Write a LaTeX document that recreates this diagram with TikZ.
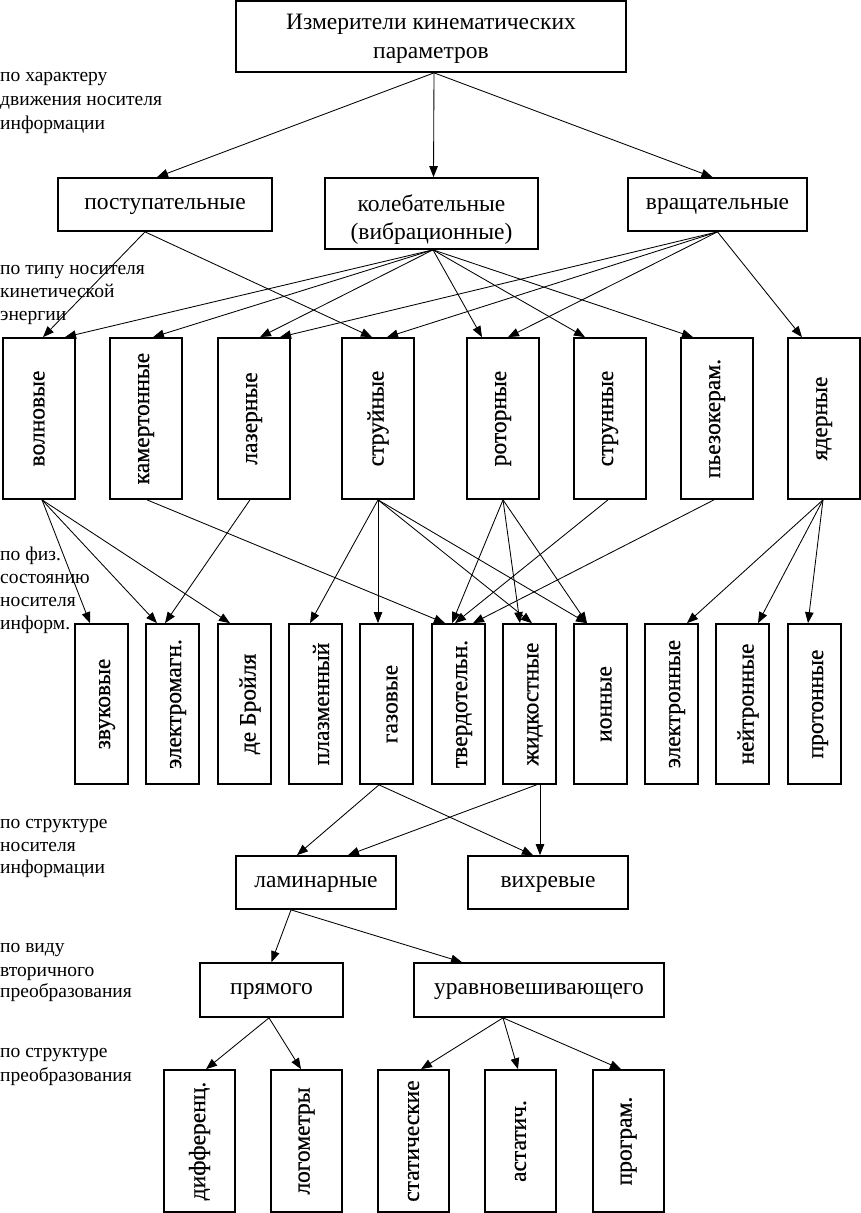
\documentclass[tikz,border=0pt]{standalone}
\usepackage{fontspec}
\setmainfont{Liberation Serif}
\newfontfamily\vfont[FakeBold=0.6]{Liberation Serif}
\usepackage{graphicx}
\usetikzlibrary{arrows.meta}
\begin{document}
\begin{tikzpicture}[x=1pt,y=-1pt,
  box/.style={draw, line width=1.7pt, inner sep=0pt, align=center, font=\vfont\fontsize{23.5}{29}\selectfont},
  hb/.style={box},
  btxt/.style={inner sep=0pt, anchor=base, font=\fontsize{23.5}{29}\selectfont},
  vthree/.style={box, minimum width=72pt, minimum height=161pt},
  vfour/.style={box, minimum width=53pt, minimum height=160pt},
  vseven/.style={box, minimum width=71pt, minimum height=142pt},
  arr/.style={-{Triangle[length=11pt,width=8.5pt]}, line width=0.85pt},
  lt/.style={anchor=base west, inner sep=0pt, font=\fontsize{19.5}{24}\selectfont}]
\useasboundingbox (0,0) rectangle (860,1213);
\fill[white] (0,0) rectangle (860,1213);
% level 1
\node[hb, minimum width=390pt, minimum height=71pt] (top) at (431,36.5) {};
\node[btxt] (top-a) at (431,29.5) {Измерители кинематических};
\node[btxt] (top-b) at (431,58) {параметров};
% level 2
\node[hb, minimum width=214pt, minimum height=53pt] (post) at (165,204.5) {};
\node[btxt] (post-t) at (165,209) {поступательные};
\node[hb, minimum width=213pt, minimum height=71pt] (kol) at (431.5,213.5) {};
\node[btxt] (kol-a) at (431.5,211) {колебательные};
\node[btxt] (kol-b) at (431.5,239) {(вибрационные)};
\node[hb, minimum width=179pt, minimum height=53pt] (vr) at (717.5,204.5) {};
\node[btxt] (vr-t) at (717.5,209) {вращательные};
% level 3
\node[vthree] (voln) at (39,418.5) {\rotatebox{90}{волновые}};
\node[vthree] (kam) at (146,418.5) {\rotatebox{90}{камертонные}};
\node[vthree] (laz) at (254,418.5) {\rotatebox{90}{лазерные}};
\node[vthree] (str) at (378,418.5) {\rotatebox{90}{струйные}};
\node[vthree] (rot) at (503,418.5) {\rotatebox{90}{роторные}};
\node[vthree] (strn) at (610,418.5) {\rotatebox{90}{струнные}};
\node[vthree] (pz) at (717,418.5) {\rotatebox{90}{пьезокерам.}};
\node[vthree] (yad) at (824,418.5) {\rotatebox{90}{ядерные}};
% level 4
\node[vfour] (zv) at (101.5,704) {\hspace*{11pt}\rotatebox{90}{звуковые}};
\node[vfour] (em) at (172.5,704) {\hspace*{11pt}\rotatebox{90}{электромагн.}};
\node[vfour] (db) at (244.5,704) {\hspace*{11pt}\rotatebox{90}{де Бройля}};
\node[vfour] (pl) at (315.5,704) {\hspace*{11pt}\rotatebox{90}{плазменный}};
\node[vfour] (gaz) at (386.5,704) {\hspace*{11pt}\rotatebox{90}{газовые}};
\node[vfour] (tv) at (458.5,704) {\hspace*{11pt}\rotatebox{90}{твердотельн.}};
\node[vfour] (zh) at (529.5,704) {\hspace*{11pt}\rotatebox{90}{жидкостные}};
\node[vfour] (ion) at (600.5,704) {\hspace*{11pt}\rotatebox{90}{ионные}};
\node[vfour] (el) at (671.5,704) {\hspace*{11pt}\rotatebox{90}{электронные}};
\node[vfour] (ne) at (742.5,704) {\hspace*{11pt}\rotatebox{90}{нейтронные}};
\node[vfour] (pr) at (814.5,704) {\hspace*{11pt}\rotatebox{90}{протонные}};
% level 5
\node[hb, minimum width=160pt, minimum height=53pt] (lam) at (316,882.5) {};
\node[btxt] (lam-t) at (316,887) {ламинарные};
\node[hb, minimum width=160pt, minimum height=53pt] (vih) at (548,882.5) {};
\node[btxt] (vih-t) at (548,887) {вихревые};
% level 6
\node[hb, minimum width=143pt, minimum height=54pt] (pry) at (271.5,990) {};
\node[btxt] (pry-t) at (271.5,994) {прямого};
\node[hb, minimum width=250pt, minimum height=54pt] (urv) at (539,990) {};
\node[btxt] (urv-t) at (539,994) {уравновешивающего};
% level 7
\node[vseven] (dif) at (199.5,1141) {\rotatebox{90}{дифференц.}};
\node[vseven] (log) at (306.5,1141) {\rotatebox{90}{логометры}};
\node[vseven] (stat) at (413.5,1141) {\rotatebox{90}{статические}};
\node[vseven] (ast) at (520.5,1141) {\rotatebox{90}{астатич.}};
\node[vseven] (prg) at (628.5,1141) {\rotatebox{90}{програм.}};
% labels
\node[lt] (l1a) at (0,81.5) {по характеру};
\node[lt] (l1b) at (0,105.5) {движения носителя};
\node[lt] (l1c) at (0,129.5) {информации};
\node[lt] (l2a) at (0,274.5) {по типу носителя};
\node[lt] (l2b) at (0,297.5) {кинетической};
\node[lt] (l2c) at (0,320.5) {энергии};
\node[lt] (l3a) at (0,560.5) {по физ.};
\node[lt] (l3b) at (0,583.5) {состоянию};
\node[lt] (l3c) at (0,606.5) {носителя};
\node[lt] (l3d) at (0,629.5) {информ.};
\node[lt] (l4a) at (0,828.5) {по структуре};
\node[lt] (l4b) at (0,851.5) {носителя};
\node[lt] (l4c) at (0,873.5) {информации};
\node[lt] (l5a) at (0,952.5) {по виду};
\node[lt] (l5b) at (0,976.5) {вторичного};
\node[lt] (l5c) at (0,997.5) {преобразования};
\node[lt] (l6a) at (0,1057.5) {по структуре};
\node[lt] (l6b) at (0,1081.5) {преобразования};
% arrows level 1 -> 2
\draw[arr] ([xshift=3pt]top.south) -- ([xshift=-8pt]post.north);
\draw[arr] ([xshift=3pt]top.south) -- ([xshift=2pt]kol.north);
\draw[arr] ([xshift=3pt]top.south) -- ([xshift=-5pt]vr.north);
% level 2 -> 3
\draw[arr] ([xshift=-20pt]post.south) -- ([xshift=4pt]voln.north);
\draw[arr] ([xshift=-20pt]post.south) -- ([xshift=-6pt]str.north);
\draw[arr] ([xshift=1.5pt]kol.south) -- ([xshift=26pt]voln.north);
\draw[arr] ([xshift=1.5pt]kol.south) -- ([xshift=7pt]kam.north);
\draw[arr] ([xshift=1.5pt]kol.south) -- ([xshift=6pt]laz.north);
\draw[arr] ([xshift=1.5pt]kol.south) -- ([xshift=-21pt]rot.north);
\draw[arr] ([xshift=1.5pt]kol.south) -- ([xshift=-25pt]strn.north);
\draw[arr] ([xshift=1.5pt]kol.south) -- ([xshift=-24pt]pz.north);
\draw[arr] (vr.south) -- ([xshift=26pt]laz.north);
\draw[arr] (vr.south) -- ([xshift=9pt]str.north);
\draw[arr] (vr.south) -- ([xshift=5pt]rot.north);
\draw[arr] (vr.south) -- ([xshift=-22pt]yad.north);
% level 3 -> 4
\draw[arr] ([xshift=3pt]voln.south) -- ([xshift=-11.5pt]zv.north);
\draw[arr] ([xshift=3pt]voln.south) -- ([xshift=-15.5pt]em.north);
\draw[arr] ([xshift=3pt]voln.south) -- ([xshift=-14.5pt]db.north);
\draw[arr] ([xshift=1pt]kam.south) -- ([xshift=-13.5pt]tv.north);
\draw[arr] ([xshift=-4pt]laz.south) -- ([xshift=-7.5pt]em.north);
\draw[arr] (str.south) -- ([xshift=-5.5pt]pl.north);
\draw[arr] (str.south) -- ([xshift=-8.5pt]gaz.north);
\draw[arr] (str.south) -- ([xshift=2.5pt]zh.north);
\draw[arr] (str.south) -- ([xshift=-13.5pt]ion.north);
\draw[arr] (rot.south) -- ([xshift=-6.5pt]tv.north);
\draw[arr] (rot.south) -- ([xshift=-9.5pt]zh.north);
\draw[arr] (rot.south) -- ([xshift=-13.5pt]ion.north);
\draw[arr] ([xshift=-2pt]strn.south) -- ([xshift=-3.5pt]tv.north);
\draw[arr] ([xshift=-3pt]pz.south) -- ([xshift=14.5pt]tv.north);
\draw[arr] ([xshift=-1pt]yad.south) -- ([xshift=15.5pt]el.north);
\draw[arr] ([xshift=-1pt]yad.south) -- ([xshift=15.5pt]ne.north);
\draw[arr] ([xshift=-1pt]yad.south) -- ([xshift=-6.5pt]pr.north);
% level 4 -> 5
\draw[arr] ([xshift=-7.5pt]gaz.south) -- ([xshift=-19pt]lam.north);
\draw[arr] ([xshift=-7.5pt]gaz.south) -- ([xshift=-15pt]vih.north);
\draw[arr] ([xshift=7pt]zh.south) -- ([xshift=32pt]lam.north);
\draw[arr] ([xshift=10.5pt]zh.south) -- ([xshift=-8pt]vih.north);
% level 5 -> 6
\draw[arr] ([xshift=-25pt]lam.south) -- (pry.north);
\draw[arr] ([xshift=-25pt]lam.south) -- ([xshift=-77pt]urv.north);
% level 6 -> 7
\draw[arr] ([xshift=-2.5pt]pry.south) -- ([xshift=6.5pt]dif.north);
\draw[arr] ([xshift=-2.5pt]pry.south) -- ([xshift=-5.5pt]log.north);
\draw[arr] ([xshift=-36pt]urv.south) -- ([xshift=7.5pt]stat.north);
\draw[arr] ([xshift=-36pt]urv.south) -- ([xshift=-2.5pt]ast.north);
\draw[arr] ([xshift=-36pt]urv.south) -- ([xshift=-7.5pt]prg.north);
\end{tikzpicture}
\end{document}
